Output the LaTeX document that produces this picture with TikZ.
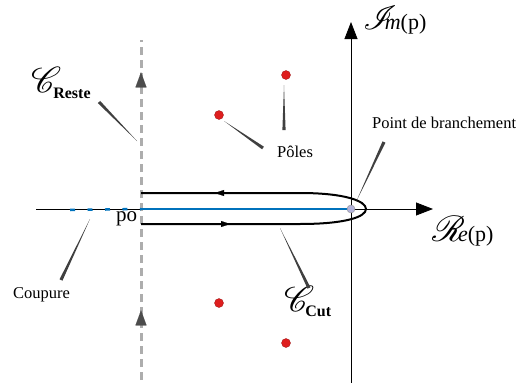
\documentclass[tikz,border=0pt]{standalone}
\usepackage{fontspec}
\setmainfont{Liberation Serif}
\usepackage{mathrsfs}
\usetikzlibrary{arrows.meta, decorations.markings, calc}
\definecolor{cutblue}{RGB}{0,114,188}
\definecolor{polered}{RGB}{222,30,30}
\definecolor{branchfill}{RGB}{178,178,218}
% tapered pointer: thick end at #1, thin end at #2
\newcommand{\taper}[2]{\fill[black!75] ($(#1)!1.6pt!90:(#2)$) -- ($(#1)!1.6pt!-90:(#2)$) -- (#2) -- cycle;}
\newcommand{\scr}[1]{\scalebox{1.45}{$\mathscr{#1}$}}

\begin{document}
\begin{tikzpicture}[x=1pt, y=-1pt,
    lbl/.style={inner sep=0pt, anchor=base west, font=\fontsize{16.5}{18}\selectfont},
    bigscr/.style={inner sep=0pt, anchor=base west, font=\fontsize{24.88}{26}\selectfont},
    axisline/.style={draw, line width=0.8pt, -{Triangle[length=17pt, width=13pt]}},
    restline/.style={draw=black!32, line width=3pt, dash pattern=on 8pt off 5pt,
      postaction={decorate}, decoration={markings,
        mark=at position 0.205 with {\arrow{Triangle[length=15pt, width=11pt, line width=0.1pt, color=black!70]}},
        mark=at position 0.905 with {\arrow{Triangle[length=15pt, width=11pt, line width=0.1pt, color=black!70]}}}},
    contour/.style={draw, line width=2pt,
      postaction={decorate}, decoration={markings,
        mark=at position 89pt with {\arrow{Triangle[length=9pt, width=6pt, line width=0.1pt]}},
        mark=at position -74pt with {\arrow{Triangle[length=9pt, width=6pt, line width=0.1pt]}}}},
    cutline/.style={draw=cutblue, line width=2.5pt},
    pole/.style={circle, fill=polered, draw=polered!70!black, line width=0.3pt,
                 minimum size=9pt, inner sep=0pt},
  ]
  \useasboundingbox (0,0) rectangle (523,383);

  % axes
  \coordinate (reO) at (36,209);
  \coordinate (reE) at (433,209);
  \coordinate (imS) at (351,383);
  \coordinate (imN) at (351,22);
  \draw[axisline] (reO) -- (reE);
  \draw[axisline] (imS) -- (imN);

  % remaining contour (dashed vertical)
  \coordinate (rbot) at (141,380);
  \coordinate (rtop) at (141,40);
  \draw[restline] (rbot) -- (rtop);

  % branch cut
  \coordinate (p0) at (141,209);
  \coordinate (cutL) at (70,210);
  \draw[cutline, dash pattern=on 5pt off 12.5pt] (cutL) -- (p0);
  \draw[cutline] (p0) -- (351,209);

  % contour around the cut
  \coordinate (cin) at (141,224);
  \coordinate (cout) at (141,193);
  \coordinate (ctip) at (366,209);
  \draw[contour] (cin) -- (300,224) .. controls (345,224) and (366,217) .. (ctip)
    .. controls (366,201) and (345,193) .. (300,193) -- (cout);

  % branch point
  \node[circle, draw=black!45, fill=branchfill, minimum size=8pt, inner sep=0pt] (bp) at (351,209) {};

  % poles
  \node[pole] (pA) at (286,75) {};
  \node[pole] (pB) at (219,115) {};
  \node[pole] (pC) at (219,303) {};
  \node[pole] (pD) at (286,343) {};

  % labels
  \node[bigscr] (imlab) at (363,29) {\scalebox{1.35}{$\mathscr{I}$}\hspace{-12pt}\fontsize{22}{23}\selectfont\textit{m}(p)};
  \node[bigscr] (relab) at (432,241) {\scr{R}\hspace{-7pt}\fontsize{22}{23}\selectfont\textit{e}(p)};
  \node[bigscr] (creste) at (31,92) {\scr{C}\hspace{-8pt}\raisebox{-6pt}{\fontsize{16}{17}\selectfont\textbf{Reste}}};
  \node[bigscr] (ccut) at (284,311) {\scr{C}\hspace{-9pt}\raisebox{-5pt}{\fontsize{16}{17}\selectfont\textbf{Cut}}};
  \node[lbl] (branch) at (372,128) {Point de branchement};
  \node[lbl] (poles) at (277,157) {Pôles};
  \node[lbl] (coupure) at (13,298) {Coupure};
  \node[lbl, font=\fontsize{21}{22}\selectfont] (plab) at (116,221) {po};

  % pointers
  \coordinate (tReste) at (99,102);   \coordinate (hReste) at (137,141);
  \coordinate (tPoleA) at (284,130);  \coordinate (hPoleA) at (284,85);
  \coordinate (tPoleB) at (263,148);  \coordinate (hPoleB) at (224,121);
  \coordinate (tBranch) at (384,142); \coordinate (hBranch) at (356,202);
  \coordinate (tCoup) at (61,280);    \coordinate (hCoup) at (90,219);
  \coordinate (tCut) at (309,288);    \coordinate (hCut) at (280,228);
  \taper{tReste}{hReste}
  \taper{tPoleA}{hPoleA}
  \taper{tPoleB}{hPoleB}
  \taper{tBranch}{hBranch}
  \taper{tCoup}{hCoup}
  \taper{tCut}{hCut}
\end{tikzpicture}
\end{document}
